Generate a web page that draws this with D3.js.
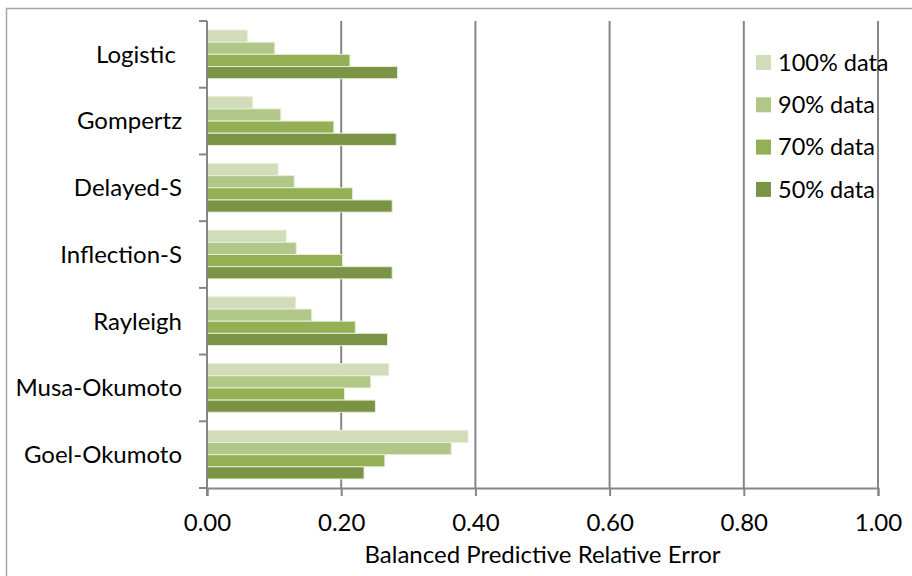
<!DOCTYPE html>
<html>
<head>
<meta charset="utf-8">
<script src="https://cdn.jsdelivr.net/npm/d3@7"></script>
<style>
  body { margin: 0; background: #fff; }
  text { font-family: Lato, "Open Sans", sans-serif; fill: #000; white-space: pre; }
</style>
</head>
<body>
<div id="viz"></div>
<script>
// models, top to bottom
var models = ["Logistic ", "Gompertz", "Delayed-S", "Inflection-S", "Rayleigh", "Musa-Okumoto", "Goel-Okumoto"];
var seriesNames = ["100% data", "90% data", "70% data", "50% data"];
var seriesColors = ["#d1ddb9", "#b0c787", "#93b055", "#7b9345"];

// values per series, same order as models
var data100 = [0.060, 0.068, 0.106, 0.118, 0.132, 0.271, 0.389];
var data90 = [0.101, 0.110, 0.130, 0.133, 0.156, 0.244, 0.364];
var data70 = [0.213, 0.189, 0.217, 0.202, 0.221, 0.205, 0.265];
var data50 = [0.284, 0.282, 0.276, 0.276, 0.269, 0.251, 0.234];
var seriesValues = [data100, data90, data70, data50];

var xTicks = [0, 0.2, 0.4, 0.6, 0.8, 1.0];

var width = 912, height = 576;
var margin = { top: 21, left: 207, right: 34, bottom: 88 };
var plotW = width - margin.left - margin.right;
var plotH = height - margin.top - margin.bottom;

var svg = d3.select("#viz").append("svg")
  .attr("width", width)
  .attr("height", height);

// outer chart border (runs off the right and bottom of the frame)
svg.append("path")
  .attr("d", "M6.5,580 V8.5 H920")
  .attr("fill", "none")
  .attr("stroke", "#a6a6a6")
  .attr("stroke-width", 1.5);

var g = svg.append("g")
  .attr("transform", "translate(" + margin.left + "," + margin.top + ")");

var xScale = d3.scaleLinear().domain([0, 1]).range([0, plotW]);
var yScale = d3.scaleBand().domain(models).range([0, plotH]).paddingInner(0.27).paddingOuter(0.135);
var yGroups = d3.scaleBand().domain(models).range([0, plotH]);
var ySub = d3.scaleBand().domain(seriesNames).range([0, yScale.bandwidth()]);

// gridlines
g.selectAll("line.grid")
  .data(xTicks.slice(1))
  .enter()
  .append("line")
  .attr("class", "grid")
  .attr("x1", function (d) { return xScale(d); })
  .attr("x2", function (d) { return xScale(d); })
  .attr("y1", 0)
  .attr("y2", plotH)
  .attr("stroke", "#868686")
  .attr("stroke-width", 2);

// bars
var rows = [];
models.forEach(function (m, i) {
  seriesNames.forEach(function (s, j) {
    rows.push({ model: m, series: s, value: seriesValues[j][i], color: seriesColors[j] });
  });
});

g.selectAll("rect.bar")
  .data(rows)
  .enter()
  .append("rect")
  .attr("class", "bar")
  .attr("x", 0)
  .attr("y", function (d) { return yScale(d.model) + ySub(d.series); })
  .attr("width", function (d) { return xScale(d.value); })
  .attr("height", ySub.bandwidth())
  .attr("fill", function (d) { return d.color; })
  .attr("stroke", "#e6eed8")
  .attr("stroke-width", 1);

// x axis
var xAxis = d3.axisBottom(xScale).tickValues(xTicks).tickFormat(d3.format(".2f")).tickSize(8).tickPadding(18);
var xg = g.append("g")
  .attr("transform", "translate(0," + plotH + ")")
  .call(xAxis);
xg.select(".domain").attr("stroke", "#868686").attr("stroke-width", 2);
xg.selectAll(".tick line").attr("stroke", "#868686").attr("stroke-width", 2);
xg.selectAll(".tick text").style("font-size", "24px").attr("fill", "#000");

// y axis: ticks between categories
g.append("line")
  .attr("x1", 0).attr("x2", 0)
  .attr("y1", 0).attr("y2", plotH + 8)
  .attr("stroke", "#868686").attr("stroke-width", 2);

var yBounds = models.map(function (m) { return yGroups(m); }).concat([plotH]);
g.selectAll("line.ytick")
  .data(yBounds)
  .enter()
  .append("line")
  .attr("class", "ytick")
  .attr("x1", -8).attr("x2", 0)
  .attr("y1", function (d) { return d; })
  .attr("y2", function (d) { return d; })
  .attr("stroke", "#868686").attr("stroke-width", 2);

g.selectAll("text.ylab")
  .data(models)
  .enter()
  .append("text")
  .attr("class", "ylab")
  .attr("x", -25)
  .attr("y", function (d) { return yGroups(d) + yGroups.bandwidth() / 2; })
  .attr("dy", "0.35em")
  .attr("text-anchor", "end")
  .style("font-size", "24px")
  .text(function (d) { return d; });

// axis title
svg.append("text")
  .attr("x", margin.left + plotW / 2)
  .attr("y", 563)
  .attr("text-anchor", "middle")
  .style("font-size", "24px")
  .text("Balanced Predictive Relative Error");

// legend
var legend = svg.append("g").attr("transform", "translate(756,55)");
var item = legend.selectAll("g")
  .data(seriesNames)
  .enter()
  .append("g")
  .attr("transform", function (d, i) { return "translate(0," + i * 42.3 + ")"; });
item.append("rect")
  .attr("width", 15).attr("height", 15)
  .attr("fill", function (d, i) { return seriesColors[i]; });
item.append("text")
  .attr("x", 22)
  .attr("y", 7.5)
  .attr("dy", "0.35em")
  .style("font-size", "23.5px")
  .text(function (d) { return d; });
</script>
</body>
</html>
